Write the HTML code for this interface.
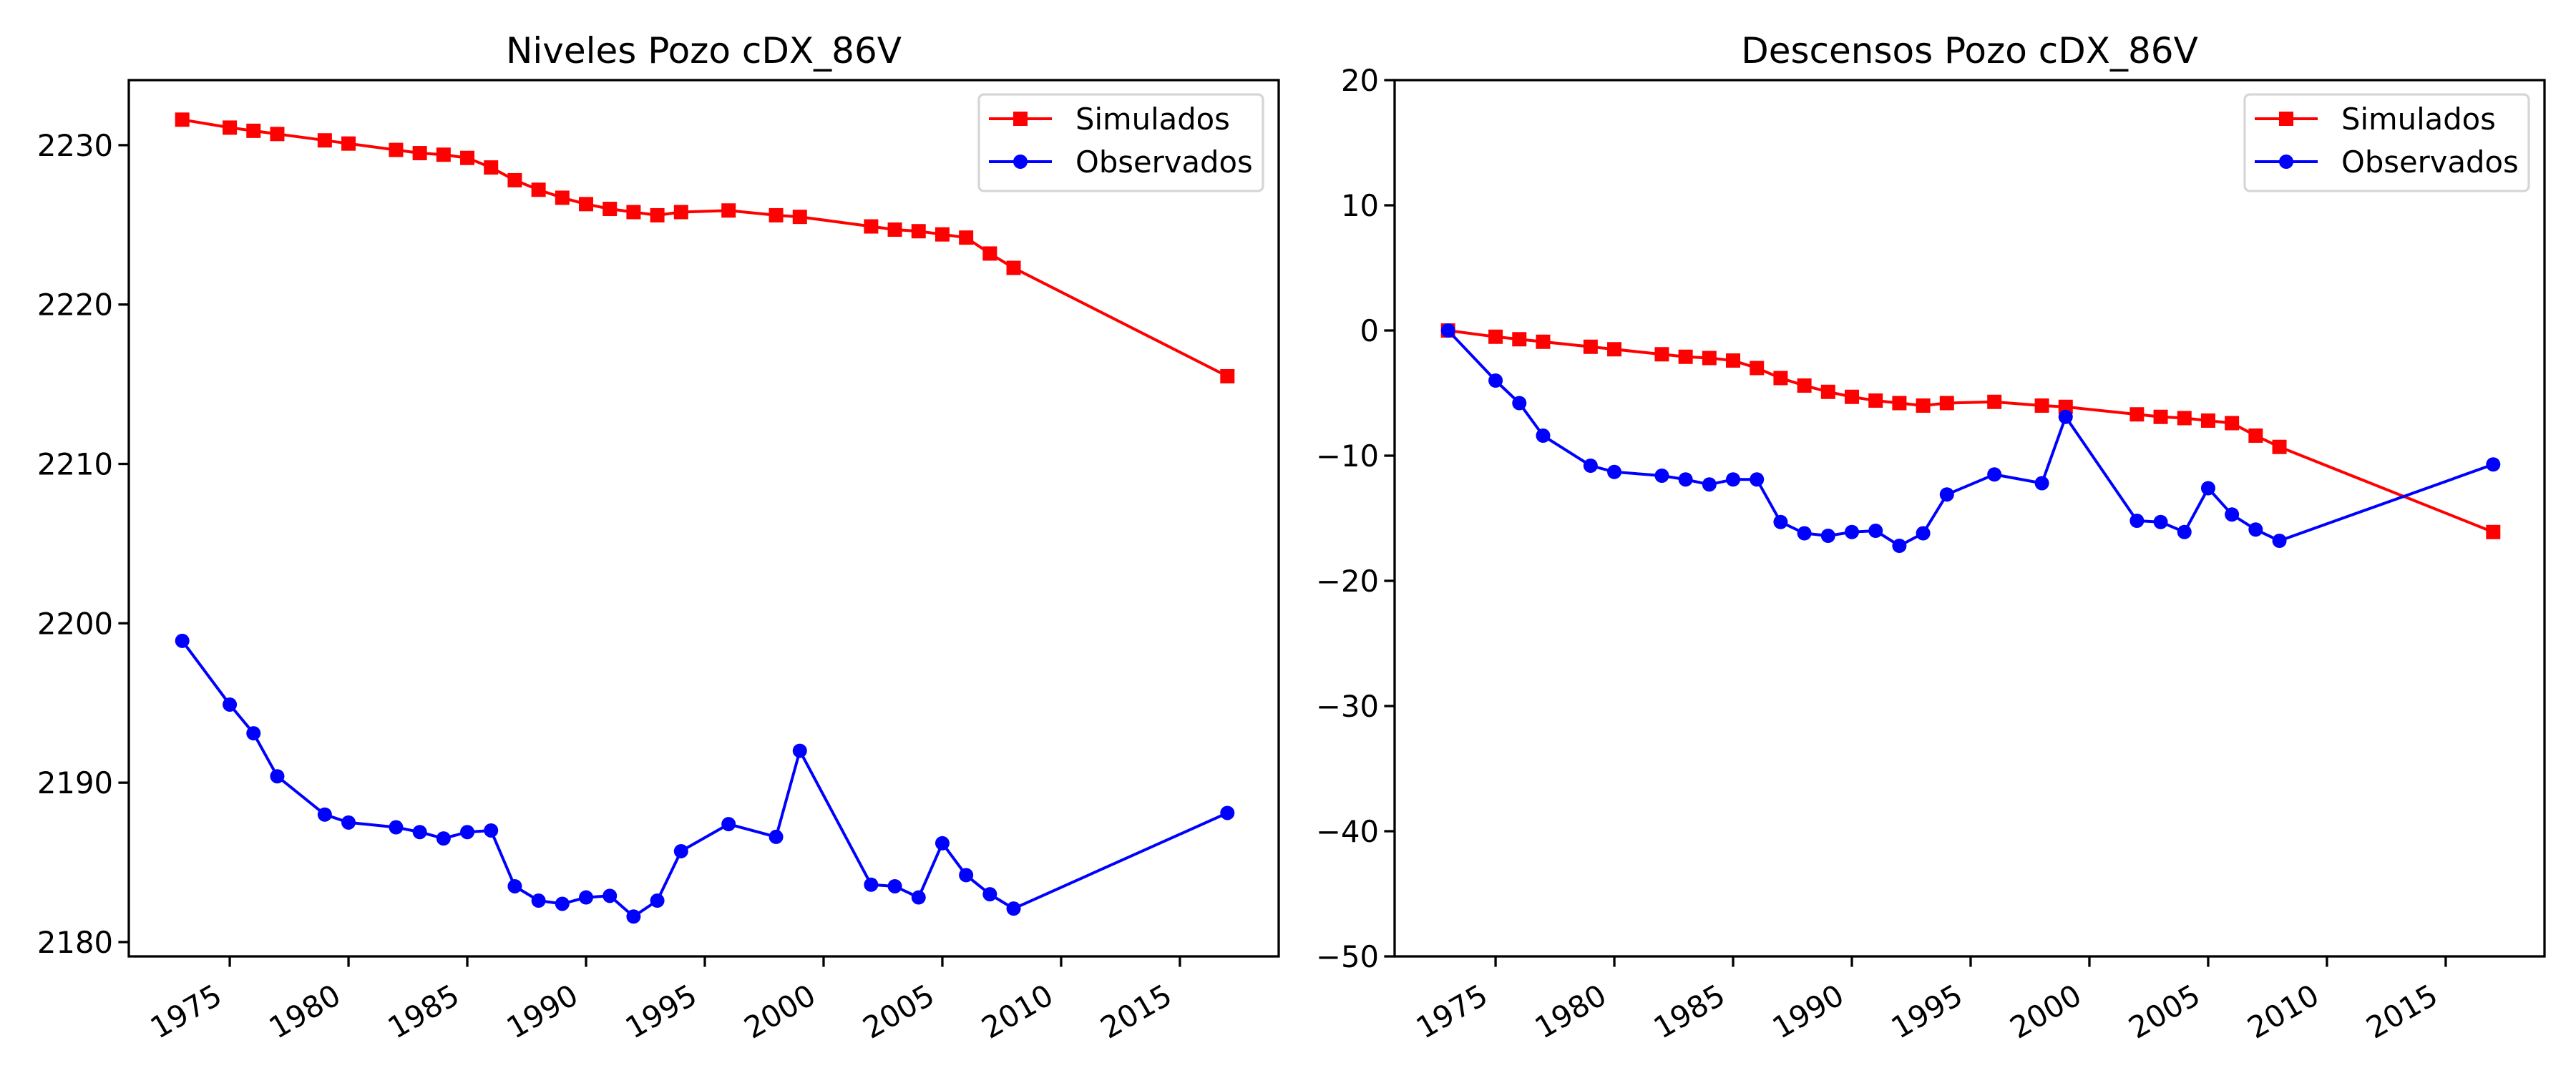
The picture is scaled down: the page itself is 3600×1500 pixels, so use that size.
<!DOCTYPE html>
<html><head><meta charset="utf-8"><style>
html,body{margin:0;padding:0;background:#fff;}
svg{display:block;font-family:"DejaVu Sans","Liberation Sans",sans-serif;}
</style></head><body>
<svg id="fig" width="3600" height="1500" viewBox="0 0 3600 1500" xmlns="http://www.w3.org/2000/svg">
<rect width="3600" height="1500" fill="#fff"/>
</svg>
<script>
const years = [1973,1975,1976,1977,1979,1980,1982,1983,1984,1985,1986,1987,1988,1989,1990,1991,1992,1993,1994,1996,1998,1999,2002,2003,2004,2005,2006,2007,2008,2017];
const simNiveles = [2231.6,2231.1,2230.9,2230.7,2230.3,2230.1,2229.7,2229.5,2229.4,2229.2,2228.6,2227.8,2227.2,2226.7,2226.3,2226.0,2225.8,2225.6,2225.8,2225.9,2225.6,2225.5,2224.9,2224.7,2224.6,2224.4,2224.2,2223.2,2222.3,2215.5];
const obsNiveles = [2198.9,2194.9,2193.1,2190.4,2188.0,2187.5,2187.2,2186.9,2186.5,2186.9,2187.0,2183.5,2182.6,2182.4,2182.8,2182.9,2181.6,2182.6,2185.7,2187.4,2186.6,2192.0,2183.6,2183.5,2182.8,2186.2,2184.2,2183.0,2182.1,2188.1];
const simDescensos = [0,-0.5,-0.7,-0.9,-1.3,-1.5,-1.9,-2.1,-2.2,-2.4,-3.0,-3.8,-4.4,-4.9,-5.3,-5.6,-5.8,-6.0,-5.8,-5.7,-6.0,-6.1,-6.7,-6.9,-7.0,-7.2,-7.4,-8.4,-9.3,-16.1];
const obsDescensos = [0,-4.0,-5.8,-8.4,-10.8,-11.3,-11.6,-11.9,-12.3,-11.9,-11.9,-15.3,-16.2,-16.4,-16.1,-16.0,-17.2,-16.2,-13.1,-11.5,-12.2,-6.9,-15.2,-15.3,-16.1,-12.6,-14.7,-15.9,-16.8,-10.7];
const xTicks = [1975,1980,1985,1990,1995,2000,2005,2010,2015];
const yTicksNiveles = [2180,2190,2200,2210,2220,2230];
const yTicksDescensos = [-50,-40,-30,-20,-10,0,10,20];
const titles = ["Niveles Pozo cDX_86V","Descensos Pozo cDX_86V"];
const legendLabels = ["Simulados","Observados"];

const NS="http://www.w3.org/2000/svg";
const svg=document.getElementById('fig');
function mk(tag,attrs,parent){const e=document.createElementNS(NS,tag);for(const k in attrs)e.setAttribute(k,attrs[k]);(parent||svg).appendChild(e);return e;}

function drawPanel(opt){
  const g=mk('g',{});
  
  
  const L=opt.left,R=opt.right,T=112,B=1337;
  const xs=v=>L+(v-1970.75)/(2019.16-1970.75)*(R-L);
  const ys=v=>B-(v-opt.ymin)/(opt.ymax-opt.ymin)*(B-T);
  // title
  const t=mk('text',{x:(L+R)/2,y:88,'text-anchor':'middle','font-size':50,fill:'#000'},g);
  t.textContent=opt.title;
  
  
  // x ticks
  xTicks.forEach(yr=>{
    const x=xs(yr);
    const tk=mk('line',{x1:x,x2:x,y1:B,y2:B+14.6,stroke:'#000','stroke-width':3.3},g);
    
    
    const lb=mk('text',{x:x-8,y:1400,'text-anchor':'end','font-size':41.7,fill:'#000',transform:`rotate(-30 ${x-8} 1400)`},g);
    lb.textContent=yr;
    
    
  });
  opt.yticks.forEach(v=>{
    const y=ys(v);
    const tk=mk('line',{x1:L-14.6,x2:L,y1:y,y2:y,stroke:'#000','stroke-width':3.3},g);
    
    
    const lb=mk('text',{x:L-22,y:y+15,'text-anchor':'end','font-size':41.7,fill:'#000'},g);
    lb.textContent=(v<0?'\u2212'+Math.abs(v):v);
    
    
  });
  // series
  const series=[{vals:opt.sim,color:'#ff0000',m:'sq',name:'simulados-series'},{vals:opt.obs,color:'#0000ff',m:'ci',name:'observados-series'}];
  series.forEach(s=>{
    const sg=mk('g',{},g);
    
    
    const pts=years.map((yr,i)=>xs(yr).toFixed(1)+','+ys(s.vals[i]).toFixed(1)).join(' ');
    const pl=mk('polyline',{points:pts,fill:'none',stroke:s.color,'stroke-width':4,'stroke-linejoin':'round'},sg);
    
    
    years.forEach((yr,i)=>{
      const x=xs(yr),y=ys(s.vals[i]);
      let m;
      if(s.m==='sq') m=mk('rect',{x:x-10,y:y-10,width:20,height:20,fill:s.color},sg);
      else m=mk('circle',{cx:x,cy:y,r:10,fill:s.color},sg);
      
      
    });
  });
  // frame
  const fr=mk('rect',{x:L,y:T,width:R-L,height:B-T,fill:'none',stroke:'#000','stroke-width':3.3},g);
  
  
  // legend
  const lg=mk('g',{},g);
  
  
  const bx=R-419,by=132;
  mk('rect',{x:bx,y:by,width:397,height:135,rx:7,fill:'#fff','fill-opacity':0.8,stroke:'#d6d6d6','stroke-width':3.3},lg);
  [[166,'#ff0000','sq'],[226,'#0000ff','ci']].forEach((e,i)=>{
    const eg=mk('g',{},lg);
    
    
    mk('line',{x1:bx+14,x2:bx+102,y1:e[0],y2:e[0],stroke:e[1],'stroke-width':4},eg);
    if(e[2]==='sq') mk('rect',{x:bx+48,y:e[0]-10,width:20,height:20,fill:e[1]},eg);
    else mk('circle',{cx:bx+58,cy:e[0],r:10,fill:e[1]},eg);
    const tx=mk('text',{x:bx+135,y:e[0]+15,'font-size':41.7,fill:'#000'},eg);
    tx.textContent=legendLabels[i];
  });
}
drawPanel({name:'niveles-chart',left:180,right:1787,ymin:2179.1,ymax:2234.08,yticks:yTicksNiveles,sim:simNiveles,obs:obsNiveles,title:titles[0]});
drawPanel({name:'descensos-chart',left:1949,right:3556,ymin:-50,ymax:20,yticks:yTicksDescensos,sim:simDescensos,obs:obsDescensos,title:titles[1]});
</script>
</body></html>
